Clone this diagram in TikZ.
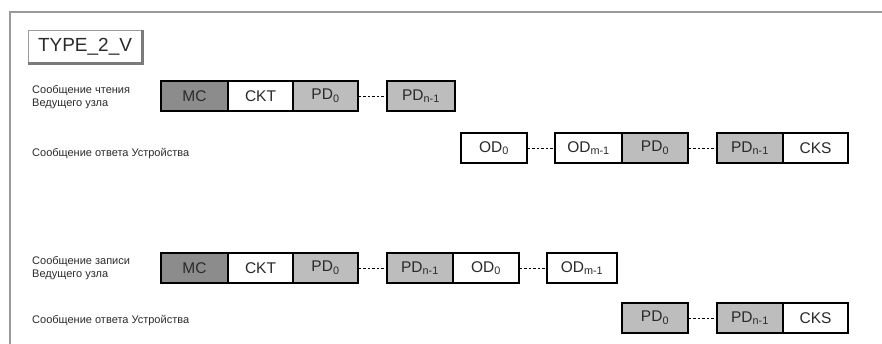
\documentclass[tikz,border=0pt]{standalone}
\usepackage{fontspec}
\setmainfont{Liberation Sans}
\definecolor{mcgray}{HTML}{8C8C8C}
\definecolor{pdgray}{HTML}{BDBDBD}
\definecolor{framegray}{HTML}{9A9A9A}
\definecolor{txt}{HTML}{2A2A2A}
\begin{document}
\begin{tikzpicture}[x=1pt,y=-1pt,
  field/.style={draw=black,line width=1.1pt,minimum height=30pt,inner sep=0pt,font=\fontsize{15.5}{15.5}\selectfont,text=txt},
  wfield/.style={field,fill=white},
  mcfield/.style={field,fill=mcgray},
  pdfield/.style={field,fill=pdgray,line width=1.5pt},
  lbl/.style={anchor=west,align=left,font=\fontsize{11}{13}\selectfont,text=txt,inner sep=0pt},
  gap/.style={draw=black,dashed,line width=0.9pt,dash pattern=on 2.5pt off 2pt}]
\useasboundingbox (0,0) rectangle (882,344);
% frame
\draw[framegray,line width=1.5pt] (10,344) -- (10,12) -- (882,12);
% title
\node[draw=framegray,line width=0.8pt,minimum width=114pt,minimum height=33pt,inner sep=0pt,font=\fontsize{19}{19}\selectfont,text=txt] (title) at (85,46.5) {TYPE\_2\_V};
\draw[framegray!80!black,line width=2.5pt] (title.north east) -- (title.south east) -- (title.south west);
% labels
\node[lbl] (l1) at (32,97.5) {Сообщение чтения\\Ведущего узла};
\node[lbl] (l2) at (32,154) {Сообщение ответа Устройства};
\node[lbl] (l3) at (32,268.5) {Сообщение записи\\Ведущего узла};
\node[lbl] (l4) at (32,321) {Сообщение ответа Устройства};
% row 1
\node[mcfield,minimum width=67pt] (r1mc) at (194.5,96) {MC};
\node[wfield,minimum width=65pt] (r1ckt) at (260.5,96) {CKT};
\node[pdfield,minimum width=65pt] (r1pd0) at (325.5,96) {PD\textsubscript{0}};
\node[pdfield,minimum width=68pt] (r1pdn) at (421,96) {PD\textsubscript{n-1}};
\draw[gap] (r1pd0.east) -- (r1pdn.west);
% row 2
\node[wfield,minimum width=66pt] (r2od0) at (494,148) {OD\textsubscript{0}};
\node[wfield,minimum width=67pt] (r2odm) at (588.5,148) {OD\textsubscript{m-1}};
\node[pdfield,minimum width=66pt] (r2pd0) at (655,148) {PD\textsubscript{0}};
\node[pdfield,minimum width=66pt] (r2pdn) at (750,148) {PD\textsubscript{n-1}};
\node[wfield,minimum width=65pt] (r2cks) at (815.5,148) {CKS};
\draw[gap] (r2od0.east) -- (r2odm.west);
\draw[gap] (r2pd0.east) -- (r2pdn.west);
% row 3
\node[mcfield,minimum width=67pt] (r3mc) at (194.5,268) {MC};
\node[wfield,minimum width=65pt] (r3ckt) at (260.5,268) {CKT};
\node[pdfield,minimum width=65pt] (r3pd0) at (325.5,268) {PD\textsubscript{0}};
\node[pdfield,minimum width=66pt] (r3pdn) at (420,268) {PD\textsubscript{n-1}};
\node[wfield,minimum width=66pt] (r3od0) at (486,268) {OD\textsubscript{0}};
\node[wfield,minimum width=70pt] (r3odm) at (582,268) {OD\textsubscript{m-1}};
\draw[gap] (r3pd0.east) -- (r3pdn.west);
\draw[gap] (r3od0.east) -- (r3odm.west);
% row 4
\node[pdfield,minimum width=66pt] (r4pd0) at (655,318) {PD\textsubscript{0}};
\node[pdfield,minimum width=66pt] (r4pdn) at (750,318) {PD\textsubscript{n-1}};
\node[wfield,minimum width=65pt] (r4cks) at (815.5,318) {CKS};
\draw[gap] (r4pd0.east) -- (r4pdn.west);
\end{tikzpicture}
\end{document}
